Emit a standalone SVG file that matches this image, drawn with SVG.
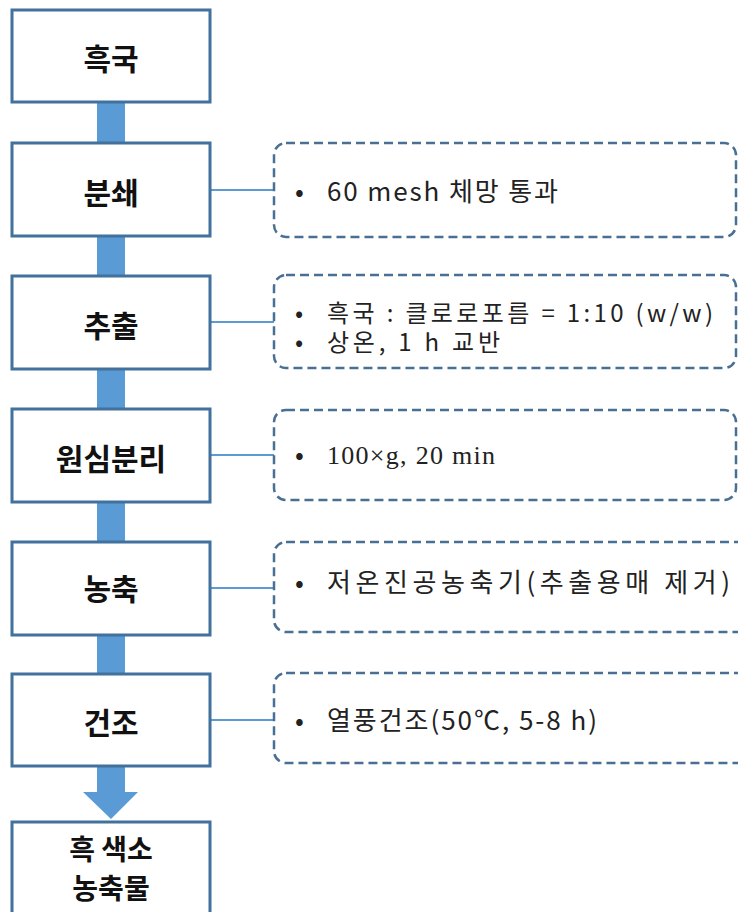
<svg xmlns="http://www.w3.org/2000/svg" width="738" height="912" viewBox="0 0 738 912">
<style>
.node rect{fill:#fff;stroke:#41719c;stroke-width:3}
.node text{font-family:"Noto Sans CJK KR","Noto Sans",sans-serif;font-weight:bold;font-size:30px;fill:#111;text-anchor:middle}
.note rect{fill:#fff;stroke:#4a6f94;stroke-width:2.5;stroke-dasharray:9 5}
.note text{font-family:"Noto Sans CJK KR","Noto Sans",sans-serif;font-size:26px;fill:#222}
.note text.sm{font-size:24px}
.note text.serif{font-family:"Liberation Serif","Noto Serif CJK KR",serif;font-size:26px}
.bar{fill:#5b9bd5}
.link{stroke:#5b9bd5;stroke-width:2;fill:none}
</style>
<rect width="738" height="912" fill="#fff"/>
<g id="connectors">
<rect class="bar" x="97" y="102" width="28" height="41"/>
<rect class="bar" x="97" y="236" width="28" height="40"/>
<rect class="bar" x="97" y="369" width="28" height="40"/>
<rect class="bar" x="97" y="502" width="28" height="40"/>
<rect class="bar" x="97" y="635" width="28" height="39"/>
<path class="bar" d="M97 766 H125 V792 H138 L111 819 L83 792 H97 Z"/>
<line class="link" x1="210" y1="190" x2="274" y2="190"/>
<line class="link" x1="210" y1="322" x2="274" y2="322"/>
<line class="link" x1="210" y1="455" x2="274" y2="455"/>
<line class="link" x1="210" y1="588" x2="274" y2="588"/>
<line class="link" x1="210" y1="720" x2="274" y2="720"/>
</g>
<g id="n1" class="node"><rect x="12" y="10" width="198" height="92"/><text x="111" y="70">흑국</text></g>
<g id="n2" class="node"><rect x="12" y="143" width="198" height="93"/><text x="111" y="204">분쇄</text></g>
<g id="n3" class="node"><rect x="12" y="276" width="198" height="93"/><text x="111" y="337">추출</text></g>
<g id="n4" class="node"><rect x="12" y="409" width="198" height="93"/><text x="111" y="470">원심분리</text></g>
<g id="n5" class="node"><rect x="12" y="542" width="198" height="93"/><text x="111" y="600">농축</text></g>
<g id="n6" class="node"><rect x="12" y="674" width="198" height="92"/><text x="111" y="734">건조</text></g>
<g id="n7" class="node"><rect x="12" y="822" width="198" height="110"/><text x="111" y="860" style="font-size:28px"><tspan x="111" y="860">흑 색소</tspan><tspan x="111" y="899">농축물</tspan></text></g>
<g id="d1" class="note"><rect x="274" y="143" width="462" height="94" rx="12"/><text x="295" y="201">•</text><text x="327" y="201" textLength="231" lengthAdjust="spacing">60 mesh 체망 통과</text></g>
<g id="d2" class="note"><rect x="274" y="275" width="462" height="93" rx="12"/><text class="sm"><tspan x="295" y="322">•</tspan><tspan x="327" y="322" textLength="386" lengthAdjust="spacing">흑국 : 클로로포름 = 1:10 (w/w)</tspan><tspan x="295" y="351">•</tspan><tspan x="327" y="351" textLength="173" lengthAdjust="spacing">상온, 1 h 교반</tspan></text></g>
<g id="d3" class="note"><rect x="274" y="410" width="462" height="90" rx="12"/><text x="295" y="464">•</text><text class="serif" x="327" y="464" textLength="168" lengthAdjust="spacing">100×g, 20 min</text></g>
<g id="d4" class="note"><rect x="274" y="542" width="480" height="90" rx="12"/><text x="295" y="592">•</text><text x="327" y="592" textLength="403" lengthAdjust="spacing">저온진공농축기(추출용매 제거)</text></g>
<g id="d5" class="note"><rect x="274" y="673" width="480" height="90" rx="12"/><text x="295" y="730">•</text><text x="327" y="730" textLength="270" lengthAdjust="spacing">열풍건조(50℃, 5-8 h)</text></g>
</svg>
